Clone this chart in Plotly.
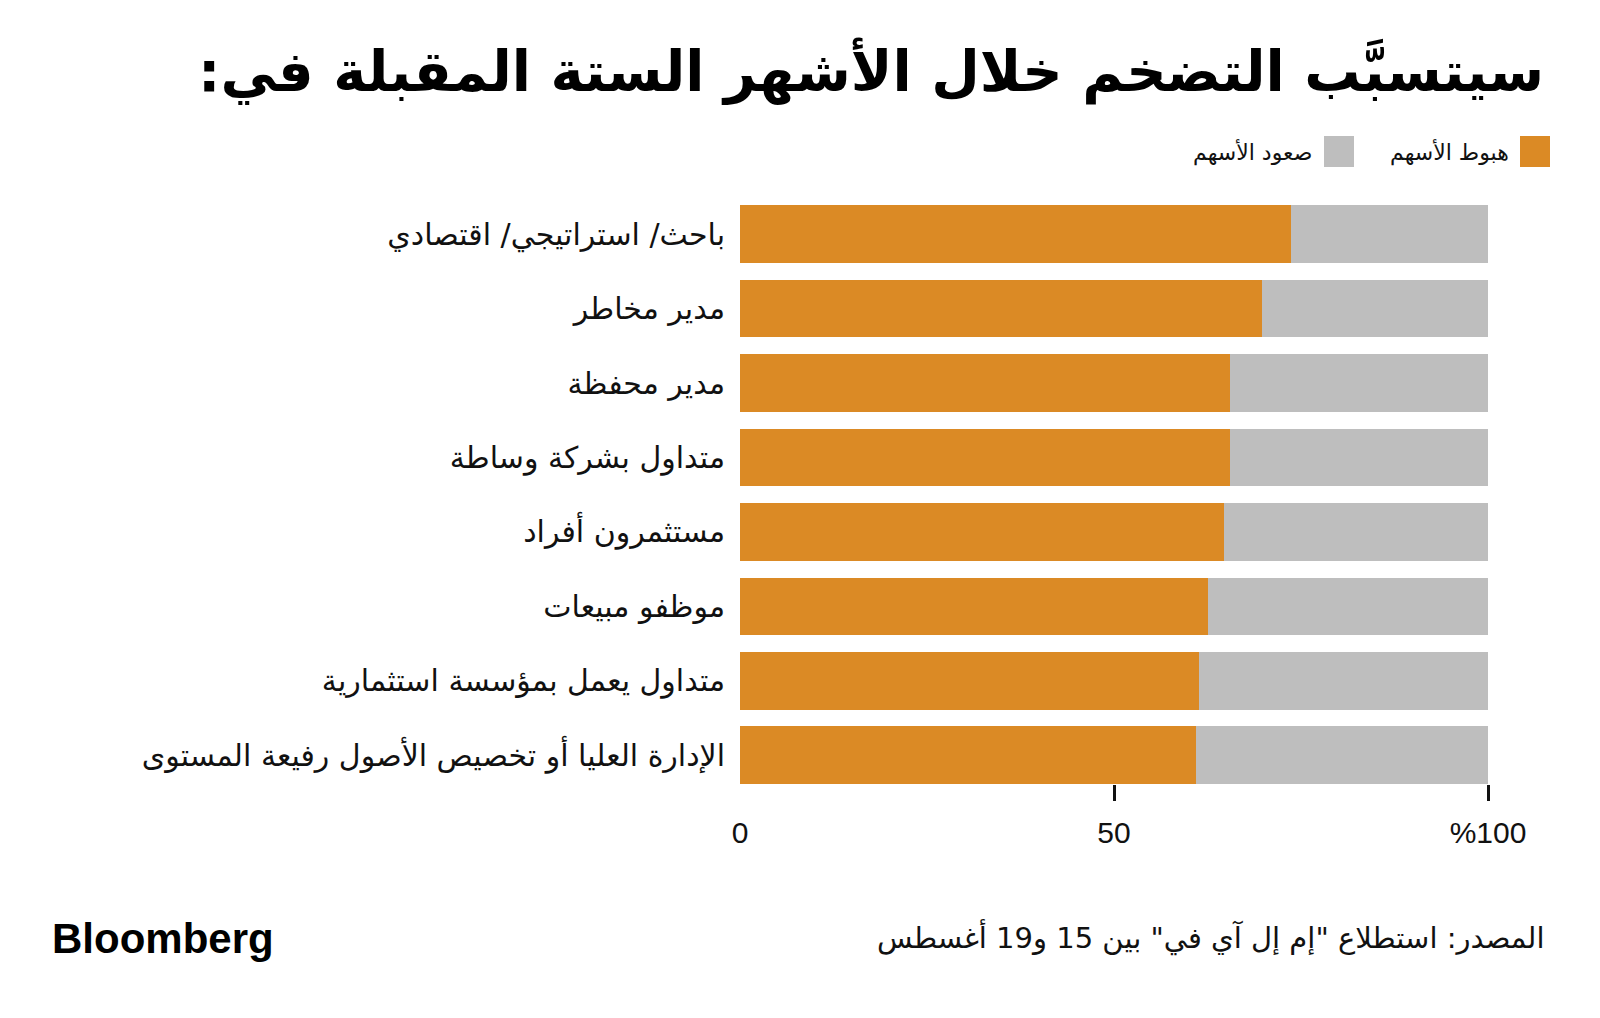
import plotly.graph_objects as go

# survey answers, top to bottom as in the original
roles = [
    "باحث/ استراتيجي/ اقتصادي",
    "مدير مخاطر",
    "مدير محفظة",
    "متداول بشركة وساطة",
    "مستثمرون أفراد",
    "موظفو مبيعات",
    "متداول يعمل بمؤسسة استثمارية",
    "الإدارة العليا أو تخصيص الأصول رفيعة المستوى",
]
stocks_down = [73.7, 69.8, 65.5, 65.5, 64.7, 62.5, 61.4, 60.9]
stocks_up = [100 - v for v in stocks_down]

series_names = ["هبوط الأسهم", "صعود الأسهم"]
tick_vals = [50, 100]
tick_text = ["50", "%100"]

title_text = "سيتسبَّب التضخم خلال الأشهر الستة المقبلة في:"
source_text = 'المصدر: استطلاع "إم إل آي في" بين 15 و19 أغسطس'

ORANGE = "#DB8A25"
GREY = "#BEBEBE"
AR_FONT = "DejaVu Sans"
RLM = "\u200f"

W, H = 1600, 1018
OFF = 8   # page body margin, everything lands 8px right/down
L, R, T, B = 740 - OFF, 1488 - OFF, 197 - OFF, 784 - OFF   # plot area in pixels


def px(x):
    return (x - OFF - L) / (R - L)


def py(y):
    return (B - (y - OFF)) / (B - T)


fig = go.Figure()
fig.add_trace(go.Bar(y=roles, x=stocks_down, orientation="h", name=series_names[0],
                     marker=dict(color=ORANGE, line=dict(width=0)), showlegend=False))
fig.add_trace(go.Bar(y=roles, x=stocks_up, orientation="h", name=series_names[1],
                     marker=dict(color=GREY, line=dict(width=0)), showlegend=False))

# second x axis only carries the "0" label (no tick mark at zero in the original)
fig.add_trace(go.Scatter(y=[roles[0]], x=[50], xaxis="x2", mode="markers", showlegend=False,
                         hoverinfo="skip", marker=dict(size=1, opacity=0)))

axis_font = dict(family="Liberation Sans, Arial, sans-serif", size=30, color="#111111")

fig.update_layout(
    width=W, height=H,
    margin=dict(l=L, r=W - R, t=T, b=H - B, pad=0),
    paper_bgcolor="white", plot_bgcolor="white",
    barmode="stack", bargap=0.226,
    xaxis=dict(range=[0, 100], tickvals=tick_vals, ticktext=tick_text,
               ticks="outside", ticklen=16, tickwidth=2.5, tickcolor="#111111",
               showgrid=False, zeroline=False, showline=False,
               tickfont=axis_font, ticklabelstandoff=6, fixedrange=True),
    xaxis2=dict(range=[0, 100], overlaying="x", side="bottom", tickvals=[0], ticktext=["0"],
                ticks="outside", ticklen=16, tickwidth=0, tickcolor="rgba(0,0,0,0)",
                showgrid=False, zeroline=False, showline=False,
                tickfont=axis_font, ticklabelstandoff=6, fixedrange=True),
    yaxis=dict(categoryorder="array", categoryarray=roles,
               range=[len(roles) - 1 + 0.387, -0.5],
               ticks="", showgrid=False, zeroline=False, showline=False,
               tickfont=dict(family=AR_FONT, size=30, color="#111111"),
               ticklabelstandoff=14, fixedrange=True),
    showlegend=False,
)

annotations = [
    dict(text="<b>" + title_text + RLM + "</b>", x=px(1546), y=py(71), xanchor="right", yanchor="middle",
         font=dict(family=AR_FONT, size=56, color="#000000")),
    dict(text=series_names[0], x=px(1511), y=py(153), xanchor="right", yanchor="middle",
         font=dict(family=AR_FONT, size=22, color="#111111")),
    dict(text=series_names[1], x=px(1314), y=py(153), xanchor="right", yanchor="middle",
         font=dict(family=AR_FONT, size=22, color="#111111")),
    dict(text=source_text, x=px(1546), y=py(937), xanchor="right", yanchor="middle",
         font=dict(family=AR_FONT, size=29, color="#111111")),
    dict(text="<b>Bloomberg</b>", x=px(50), y=py(939), xanchor="left", yanchor="middle",
         font=dict(family="Liberation Sans, Arial, sans-serif", size=42, color="#000000")),
]
for a in annotations:
    a.update(xref="paper", yref="paper", showarrow=False)
fig.update_layout(annotations=annotations)

# legend swatches (right of their labels, as in the RTL original)
for x0, col in [(1520, ORANGE), (1324, GREY)]:
    fig.add_shape(type="rect", xref="paper", yref="paper",
                  x0=px(x0), x1=px(x0 + 30), y0=py(167), y1=py(136),
                  fillcolor=col, line=dict(width=0))

fig.write_html("out.html")
